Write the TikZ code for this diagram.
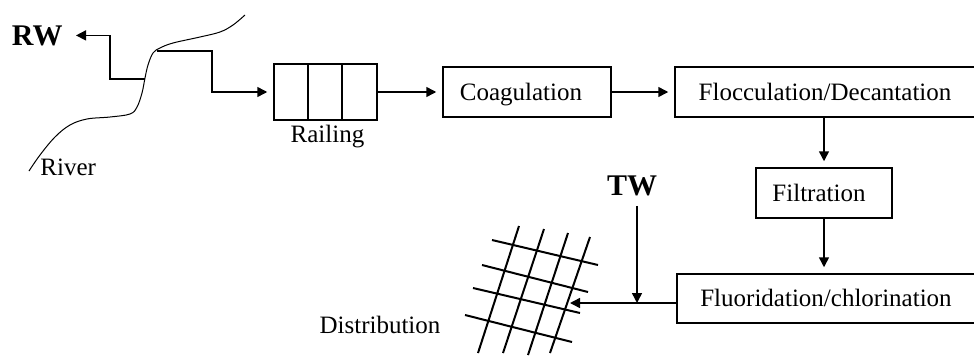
\documentclass[tikz,border=0pt]{standalone}
\usepackage{fontspec}
\setmainfont{Liberation Serif}
\usetikzlibrary{arrows.meta}
\begin{document}
\begin{tikzpicture}[x=0.5pt,y=-0.5pt,
  txt/.style={font=\fontsize{12.5pt}{15pt}\selectfont, inner sep=0pt},
  boldtxt/.style={font=\fontsize{15pt}{18pt}\selectfont\bfseries, inner sep=0pt},
  box/.style={draw, line width=0.75pt, font=\fontsize{12.5pt}{15pt}\selectfont,
    text height=8.25pt, text depth=0pt, inner sep=0pt, minimum height=25pt},
  conn/.style={line width=0.75pt, -{Triangle[length=5pt,width=5pt]}, shorten >=3pt},
  tipconn/.style={line width=0.75pt, -{Triangle[length=5pt,width=5pt]}},
  gridline/.style={line width=1pt},
  riverline/.style={line width=0.5pt}]
\fill[white] (0,0) rectangle (974,359);
\useasboundingbox (0,0) rectangle (974,359);

% boxes
\node[box, minimum width=51.5pt, minimum height=28pt] (rail) at (325.5,92) {};
\node[box, minimum width=84pt] (coag) at (527,92) {Coagulation\kern6pt};
\node[box, minimum width=150pt] (flocc) at (825,92) {Flocculation/Decantation};
\node[box, minimum width=68pt] (filt) at (824,193) {Filtration\kern5pt};
\node[box, minimum width=149pt, minimum height=24.5pt] (fluor) at (826,298.5) {Fluoridation/chlorination};

% railing compartments
\draw[line width=0.75pt] (308,64) -- (308,120);
\draw[line width=0.75pt] (342,64) -- (342,120);
\draw[line width=1.3pt] (308,120) -- (342,120);

% labels
\node[txt, anchor=base] (raillbl) at (327.5,142) {Railing};
\node[txt, anchor=base west] (riverlbl) at (40,175) {River};
\node[txt, anchor=base] (distlbl) at (380,333) {Distribution};
\node[boldtxt, anchor=base east, inner xsep=6.5pt] (RW) at (76,45) {RW};
\node[boldtxt, anchor=base, inner ysep=5pt] (TW) at (632,195) {TW};

% river
\draw[riverline] plot[smooth, tension=0.6] coordinates {(29,171) (40,155) (55,137) (70,125) (87,119) (110,117) (130,114) (137,107) (142,93) (145,78) (148,65) (153,53) (160,48) (173,43) (200,37) (220,32) (233,25) (245,15)};

% intake coordinates
\coordinate (intakeR) at (157,51);
\coordinate (intakeL) at (145,79);
\coordinate (tw) at (637,303);
\coordinate (gridpt) at (570,303);

% connectors
\draw[conn] (intakeR) -- (212,51) |- (rail.west);
\draw[tipconn] (intakeL) -- (110,79) |- (RW.east);
\draw[conn] (rail.east) -- (coag.west);
\draw[conn] (coag.east) -- (flocc.west);
\draw[conn] (flocc.south -| filt.north) -- (filt.north);
\draw[conn] (filt.south) -- (filt.south |- fluor.north);
\draw[tipconn] (fluor.west |- gridpt) -- (gridpt);
\draw[tipconn] (TW.south -| tw) -- (tw);

% distribution grid
\draw[gridline] (478,353) -- (519,226);
\draw[gridline] (503,353) -- (544,229);
\draw[gridline] (528,355) -- (568,233);
\draw[gridline] (550,353) -- (590,237);
\draw[gridline] (492,240) -- (598,265);
\draw[gridline] (482,265) -- (588,292);
\draw[gridline] (473,288) -- (580,313);
\draw[gridline] (465,315) -- (572,342);
\end{tikzpicture}
\end{document}
